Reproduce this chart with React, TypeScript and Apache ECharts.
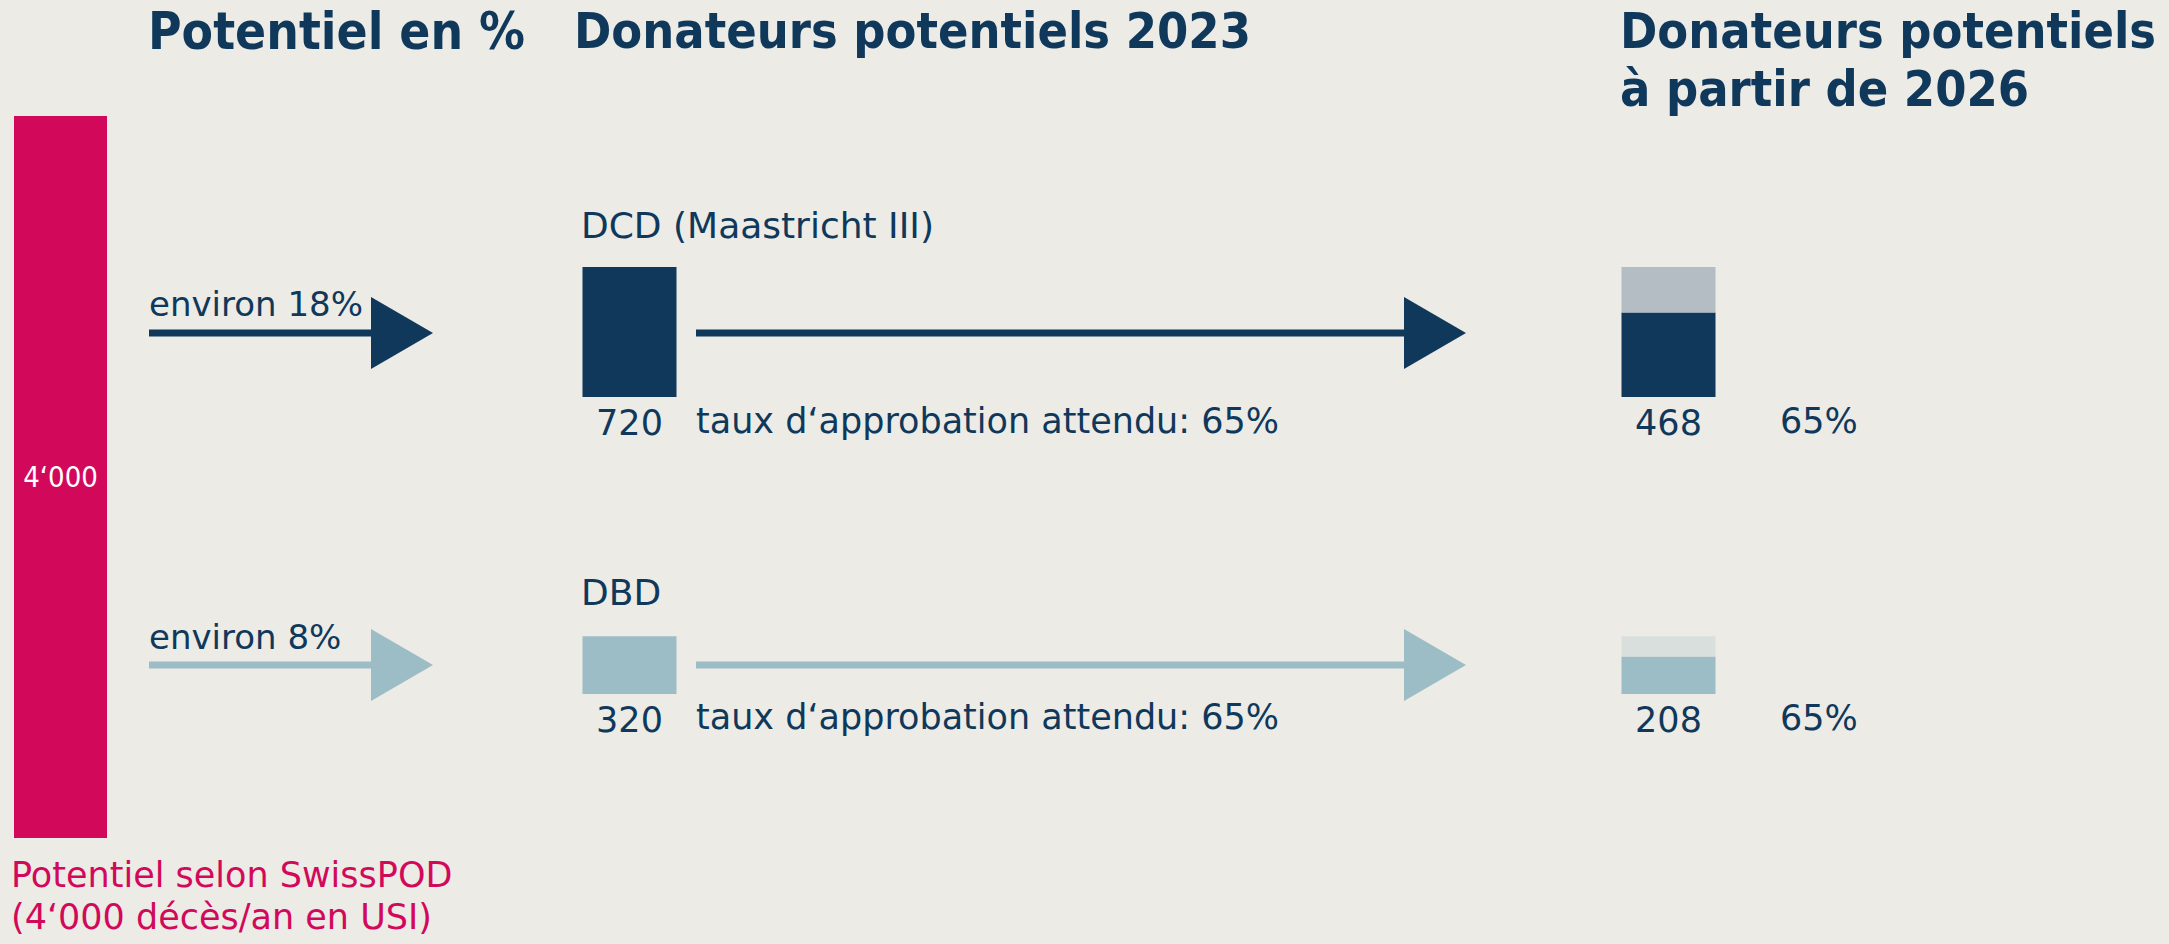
import React, { useEffect, useRef } from "react";
import * as echarts from "echarts";

// ---- data ----
const potentialTotal = [4000];
const rowNames = ["DCD (Maastricht III)", "DBD"];
const sharePct = [18, 8];
const years = ["2023", "2026"];
const dcdDonors = [720, 468];
const dbdDonors = [320, 208];
const approvalPct = [65, 65];
const titles = ["Potentiel en %", "Donateurs potentiels 2023", "Donateurs potentiels", "à partir de 2026"];
const footer = ["Potentiel selon SwissPOD", "(4‘000 décès/an en USI)"];

const NAVY = "#0F385B";
const PINK = "#D2095A";
const LIGHT = "#9CBDC6";
const GREY = "#B5BDC4";
const PALE = "#D8DFDD";
const BG = "#ECEBE6";
const FONT_B = "DejaVu Sans Condensed";
const FONT = "DejaVu Sans";

const fmt = (v: number) => String(v).replace(/\B(?=(\d{3})+(?!\d))/g, "‘");

export default function App() {
  const ref = useRef<HTMLDivElement>(null);
  useEffect(() => {
    document.body.style.margin = "0";
    const chart = echarts.init(ref.current!, null, { renderer: "svg" });
    const pxPerUnit = 722 / 4000;
    const rowMax = 800;
    const rowH = rowMax * pxPerUnit;

    const txt = (x: number, y: number, text: string, size: number, color = NAVY, weight: any = "normal", family = FONT) => ({
      type: "text",
      x,
      y,
      style: { text, fontSize: size, fontFamily: family, fontWeight: weight, fill: color, align: "left", verticalAlign: "middle" },
    });
    const arrow = (x0: number, x1: number, tip: number, yc: number, color: string) => [
      { type: "rect", shape: { x: x0, y: yc - 3.5, width: x1 - x0 + 1, height: 7 }, style: { fill: color } },
      { type: "polygon", shape: { points: [[x1, yc - 36], [tip, yc], [x1, yc + 36]] }, style: { fill: color } },
    ];

    const rowsY = [333, 665];
    const rowColors = [NAVY, LIGHT];
    const graphics: any[] = [
      txt(148, 31, titles[0], 51, NAVY, "bold", FONT_B),
      txt(574, 31, titles[1], 50, NAVY, "bold", FONT_B),
      txt(1620, 31, titles[2], 50, NAVY, "bold", FONT_B),
      txt(1620, 89, titles[3], 50, NAVY, "bold", FONT_B),
      txt(11, 875, footer[0], 35, PINK),
      txt(11, 917, footer[1], 35, PINK),
      txt(149, 304, `environ ${sharePct[0]}%`, 34),
      txt(149, 637, `environ ${sharePct[1]}%`, 34),
      txt(581, 225, rowNames[0], 36),
      txt(581, 592, rowNames[1], 36),
      txt(696, 421, `taux d‘approbation attendu: ${approvalPct[0]}%`, 35),
      txt(696, 717, `taux d‘approbation attendu: ${approvalPct[1]}%`, 35),
      txt(1780, 421, `${approvalPct[0]}%`, 35),
      txt(1780, 718, `${approvalPct[1]}%`, 35),
    ];
    rowsY.forEach((y, i) => {
      graphics.push(...arrow(149, 371, 433, y, rowColors[i]));
      graphics.push(...arrow(696, 1404, 1466, y, rowColors[i]));
    });

    const valueLabel = {
      show: true,
      position: "bottom",
      distance: 8,
      color: NAVY,
      fontSize: 35,
      fontFamily: FONT,
      formatter: (p: any) => fmt(p.value),
    };

    chart.setOption({
      animation: false,
      backgroundColor: BG,
      grid: [
        { left: 14, width: 93, top: 116, height: 722 },
        { left: 629.5, width: 1039, top: 397 - rowH, height: rowH },
        { left: 629.5, width: 1039, top: 694 - rowH, height: rowH },
      ],
      xAxis: [
        { type: "category", gridIndex: 0, data: ["SwissPOD"], show: false },
        { type: "category", gridIndex: 1, data: years, boundaryGap: false, show: false },
        { type: "category", gridIndex: 2, data: years, boundaryGap: false, show: false },
      ],
      yAxis: [
        { type: "value", gridIndex: 0, min: 0, max: 4000, show: false },
        { type: "value", gridIndex: 1, min: 0, max: rowMax, show: false },
        { type: "value", gridIndex: 2, min: 0, max: rowMax, show: false },
      ],
      series: [
        {
          type: "bar", xAxisIndex: 0, yAxisIndex: 0, data: potentialTotal, barWidth: 93,
          itemStyle: { color: PINK },
          label: { show: true, position: "inside", color: "#fff", fontSize: 29, fontFamily: FONT_B, formatter: (p: any) => fmt(p.value) },
        },
        {
          type: "bar", xAxisIndex: 1, yAxisIndex: 1, stack: "dcd", data: dcdDonors, barWidth: 94,
          itemStyle: { color: NAVY }, label: valueLabel,
        },
        {
          type: "bar", xAxisIndex: 1, yAxisIndex: 1, stack: "dcd", barWidth: 94,
          data: ["-", dcdDonors[0] - dcdDonors[1]], itemStyle: { color: GREY },
        },
        {
          type: "bar", xAxisIndex: 2, yAxisIndex: 2, stack: "dbd", data: dbdDonors, barWidth: 94,
          itemStyle: { color: LIGHT }, label: valueLabel,
        },
        {
          type: "bar", xAxisIndex: 2, yAxisIndex: 2, stack: "dbd", barWidth: 94,
          data: ["-", dbdDonors[0] - dbdDonors[1]], itemStyle: { color: PALE },
        },
      ],
      graphic: graphics,
    });
    return () => chart.dispose();
  }, []);
  return <div ref={ref} style={{ width: 2169, height: 944 }} />;
}
